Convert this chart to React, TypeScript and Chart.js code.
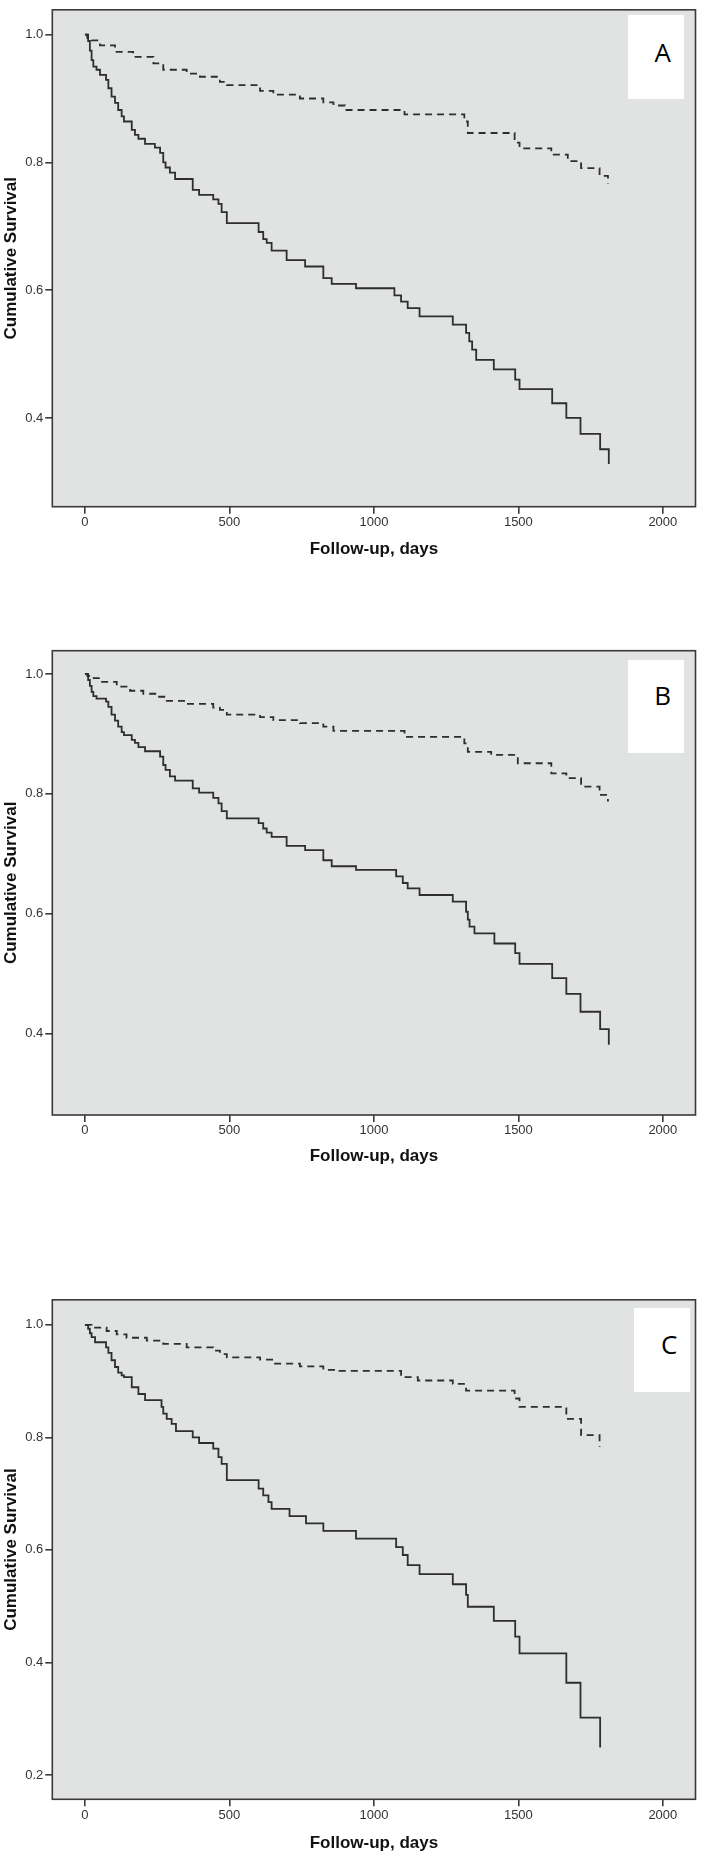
import React, { useEffect, useRef } from "react";
import { Chart, registerables } from "chart.js";

Chart.register(...registerables);

// ---------- data ----------
const X_TICKS = [0, 500, 1000, 1500, 2000];
const Y_TICKS_AB = [0.4, 0.6, 0.8, 1.0];
const Y_TICKS_C = [0.2, 0.4, 0.6, 0.8, 1.0];

// Panel A
const A_SOLID_T = [0, 11, 17, 23, 29, 40, 52, 73, 81, 92, 104, 115, 127, 135, 162, 173, 185, 208, 242, 260, 271, 279, 294, 312, 373, 395, 444, 462, 473, 491, 601, 617, 629, 646, 698, 762, 825, 854, 938, 1071, 1094, 1117, 1158, 1273, 1319, 1330, 1340, 1354, 1415, 1489, 1504, 1617, 1666, 1715, 1783, 1813];
const A_SOLID_S = [1.0, 0.99, 0.975, 0.96, 0.95, 0.945, 0.937, 0.929, 0.916, 0.903, 0.893, 0.882, 0.872, 0.864, 0.851, 0.843, 0.837, 0.829, 0.823, 0.815, 0.8, 0.792, 0.784, 0.774, 0.757, 0.749, 0.742, 0.735, 0.722, 0.705, 0.691, 0.68, 0.674, 0.662, 0.647, 0.637, 0.619, 0.61, 0.603, 0.592, 0.582, 0.572, 0.559, 0.546, 0.533, 0.52, 0.507, 0.491, 0.476, 0.46, 0.445, 0.423, 0.4, 0.375, 0.351, 0.328];
const A_DASH_T = [0, 8, 23, 52, 104, 167, 237, 271, 352, 398, 467, 491, 606, 652, 744, 825, 860, 900, 1106, 1313, 1325, 1487, 1504, 1614, 1671, 1717, 1781, 1810];
const A_DASH_S = [1.0, 0.995, 0.991, 0.983, 0.973, 0.965, 0.955, 0.945, 0.939, 0.934, 0.926, 0.921, 0.912, 0.906, 0.9, 0.894, 0.889, 0.882, 0.875, 0.864, 0.846, 0.831, 0.822, 0.812, 0.802, 0.791, 0.779, 0.766];

// Panel B
const B_SOLID_T = [0, 11, 17, 23, 29, 40, 73, 81, 92, 104, 115, 127, 135, 162, 173, 185, 208, 260, 271, 279, 294, 312, 373, 395, 444, 462, 473, 491, 601, 617, 629, 646, 698, 762, 825, 854, 938, 1077, 1100, 1117, 1158, 1273, 1319, 1325, 1331, 1348, 1417, 1489, 1504, 1617, 1666, 1715, 1783, 1813];
const B_SOLID_S = [1.0, 0.99, 0.98, 0.97, 0.963, 0.959, 0.954, 0.945, 0.932, 0.922, 0.912, 0.903, 0.898, 0.89, 0.885, 0.878, 0.871, 0.862, 0.848, 0.84, 0.829, 0.822, 0.809, 0.802, 0.793, 0.784, 0.771, 0.759, 0.751, 0.742, 0.735, 0.728, 0.713, 0.706, 0.689, 0.679, 0.673, 0.662, 0.651, 0.642, 0.631, 0.62, 0.603, 0.59, 0.578, 0.567, 0.55, 0.534, 0.516, 0.492, 0.466, 0.436, 0.407, 0.381];
const B_DASH_T = [0, 8, 23, 52, 110, 156, 202, 248, 283, 352, 444, 467, 491, 606, 652, 744, 825, 860, 1106, 1313, 1325, 1406, 1498, 1614, 1666, 1717, 1781, 1810];
const B_DASH_S = [1.0, 0.997, 0.993, 0.987, 0.979, 0.972, 0.967, 0.962, 0.955, 0.95, 0.944, 0.94, 0.932, 0.928, 0.923, 0.918, 0.912, 0.905, 0.895, 0.884, 0.87, 0.865, 0.851, 0.834, 0.826, 0.812, 0.798, 0.787];

// Panel C
const C_SOLID_T = [0, 11, 17, 23, 35, 73, 81, 92, 104, 115, 127, 135, 162, 185, 208, 265, 271, 283, 300, 315, 373, 395, 444, 462, 473, 491, 601, 617, 635, 646, 708, 765, 825, 938, 1077, 1100, 1117, 1158, 1273, 1319, 1325, 1415, 1489, 1504, 1666, 1715, 1783];
const C_SOLID_S = [1.0, 0.993, 0.985, 0.978, 0.969, 0.96, 0.95, 0.937, 0.925, 0.915, 0.91, 0.907, 0.889, 0.877, 0.866, 0.854, 0.842, 0.833, 0.824, 0.811, 0.8, 0.79, 0.78, 0.765, 0.753, 0.724, 0.709, 0.697, 0.685, 0.673, 0.66, 0.647, 0.634, 0.62, 0.605, 0.591, 0.573, 0.557, 0.539, 0.52, 0.499, 0.474, 0.446, 0.416, 0.364, 0.302, 0.249];
const C_DASH_T = [0, 23, 75, 110, 144, 214, 271, 352, 444, 467, 491, 606, 652, 744, 825, 880, 1094, 1152, 1273, 1319, 1487, 1504, 1666, 1717, 1781];
const C_DASH_S = [1.0, 0.995, 0.989, 0.983, 0.977, 0.972, 0.966, 0.96, 0.954, 0.948, 0.942, 0.938, 0.931, 0.926, 0.92, 0.918, 0.907, 0.901, 0.895, 0.883, 0.869, 0.854, 0.833, 0.804, 0.783];

// ---------- style ----------
const PLOT_BG = "rgb(225,226,226)";
const FRAME = "#3a3a3a";
const LINE = "#2e2e2e";
const FONT = "'Liberation Sans', Arial, sans-serif";

const framePlugin = {
  id: "spssFrame",
  beforeDraw(chart: any) {
    const { ctx, chartArea } = chart;
    const { left, top, right, bottom } = chartArea;
    ctx.save();
    ctx.fillStyle = PLOT_BG;
    ctx.fillRect(left, top, right - left, bottom - top);
    ctx.restore();
  },
  afterDraw(chart: any) {
    const { ctx, chartArea } = chart;
    const { left, top, right, bottom } = chartArea;
    ctx.save();
    ctx.strokeStyle = FRAME;
    ctx.lineWidth = 1.6;
    ctx.strokeRect(left, top, right - left, bottom - top);
    ctx.restore();
  },
};

type PanelProps = {
  top: number;
  height: number;
  plotTop: number;
  xAxisH: number;
  yMin: number;
  yMax: number;
  yTicks: number[];
  solidT: number[];
  solidS: number[];
  dashT: number[];
  dashS: number[];
};

function Panel(p: PanelProps) {
  const ref = useRef<HTMLCanvasElement | null>(null);
  useEffect(() => {
    if (!ref.current) return;
    const solid = p.solidT.map((t, i) => ({ x: t, y: p.solidS[i] }));
    const dash = p.dashT.map((t, i) => ({ x: t, y: p.dashS[i] }));
    const chart = new Chart(ref.current, {
      type: "line",
      data: {
        datasets: [
          {
            data: dash,
            borderColor: LINE,
            borderWidth: 1.8,
            borderDash: [7, 5],
            stepped: "before",
            pointRadius: 0,
            fill: false,
          },
          {
            data: solid,
            borderColor: LINE,
            borderWidth: 1.8,
            stepped: "before",
            pointRadius: 0,
            fill: false,
          },
        ],
      },
      options: {
        animation: false,
        responsive: false,
        events: [],
        layout: { padding: { left: 0, right: 6.5, top: p.plotTop, bottom: 0 } },
        plugins: { legend: { display: false }, tooltip: { enabled: false } },
        scales: {
          x: {
            type: "linear",
            min: -113,
            max: 2113,
            afterBuildTicks: (scale: any) => {
              scale.ticks = X_TICKS.map((v) => ({ value: v }));
            },
            afterFit: (scale: any) => {
              scale.height = p.xAxisH;
            },
            border: { display: false },
            grid: {
              drawOnChartArea: false,
              drawTicks: true,
              tickLength: 7,
              color: FRAME,
              lineWidth: 1.6,
            },
            ticks: {
              padding: 1,
              maxRotation: 0,
              autoSkip: false,
              color: "#333",
              font: { family: FONT, size: 13 },
              callback: (v: any) => String(v),
            },
            title: {
              display: true,
              text: "Follow-up, days",
              color: "#111",
              padding: { top: 0, bottom: 0 },
              font: { family: FONT, size: 17, weight: "bold", lineHeight: 1.2 },
            },
          },
          y: {
            type: "linear",
            min: p.yMin,
            max: p.yMax,
            afterBuildTicks: (scale: any) => {
              scale.ticks = p.yTicks.map((v) => ({ value: v }));
            },
            afterFit: (scale: any) => {
              scale.width = 52.3;
            },
            border: { display: false },
            grid: {
              drawOnChartArea: false,
              drawTicks: true,
              tickLength: 7,
              color: FRAME,
              lineWidth: 1.6,
            },
            ticks: {
              padding: 2,
              autoSkip: false,
              color: "#333",
              font: { family: FONT, size: 13 },
              callback: (v: any) => Number(v).toFixed(1),
            },
            title: {
              display: true,
              text: "Cumulative Survival",
              color: "#111",
              padding: { top: 1, bottom: 0 },
              font: { family: FONT, size: 17, weight: "bold", lineHeight: 1.2 },
            },
          },
        },
      },
      plugins: [framePlugin],
    } as any);
    return () => chart.destroy();
  }, []);
  return (
    <canvas
      ref={ref}
      width={702}
      height={p.height}
      style={{ position: "absolute", left: 0, top: p.top, width: 702, height: p.height }}
    />
  );
}

function LetterBox(props: { left: number; top: number; width: number; height: number; textTop: number; letter: string }) {
  return (
    <div
      style={{
        position: "absolute",
        left: props.left,
        top: props.top,
        width: props.width,
        height: props.height,
        background: "#ffffff",
      }}
    >
      <div
        style={{
          position: "absolute",
          left: props.width - 42,
          width: 42,
          top: props.textTop,
          textAlign: "center",
          fontFamily: "'Open Sans', 'Noto Sans', sans-serif",
          fontSize: 26,
          lineHeight: "26px",
          color: "#000",
        }}
      >
        {props.letter}
      </div>
    </div>
  );
}

export default function App() {
  return (
    <div style={{ position: "absolute", left: 0, top: 0, width: 702, height: 1860, background: "#fff" }}>
      <Panel
        top={0}
        height={560}
        plotTop={6}
        xAxisH={53.3}
        yMin={0.2611}
        yMax={1.0388}
        yTicks={Y_TICKS_AB}
        solidT={A_SOLID_T}
        solidS={A_SOLID_S}
        dashT={A_DASH_T}
        dashS={A_DASH_S}
      />
      <Panel
        top={640}
        height={527}
        plotTop={10.7}
        xAxisH={52}
        yMin={0.2636}
        yMax={1.0389}
        yTicks={Y_TICKS_AB}
        solidT={B_SOLID_T}
        solidS={B_SOLID_S}
        dashT={B_DASH_T}
        dashS={B_DASH_S}
      />
      <Panel
        top={1290}
        height={564}
        plotTop={9.3}
        xAxisH={54.7}
        yMin={0.1569}
        yMax={1.0444}
        yTicks={Y_TICKS_C}
        solidT={C_SOLID_T}
        solidS={C_SOLID_S}
        dashT={C_DASH_T}
        dashS={C_DASH_S}
      />
      <LetterBox left={627.7} top={15} width={56} height={84.3} textTop={23.7} letter="A" />
      <LetterBox left={627.7} top={660} width={56} height={93.3} textTop={22.2} letter="B" />
      <LetterBox left={634.3} top={1307.7} width={56} height={84} textTop={23.5} letter="C" />
    </div>
  );
}
